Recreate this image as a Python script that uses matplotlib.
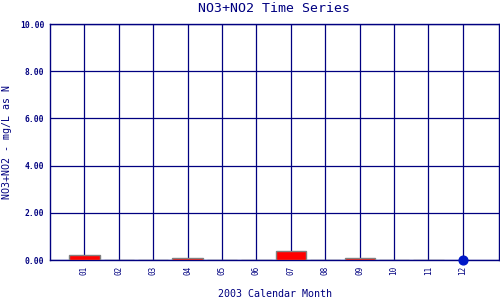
import matplotlib
matplotlib.use("Agg")
import matplotlib.pyplot as plt
import numpy as np

months = [1, 2, 3, 4, 5, 6, 7, 8, 9, 10, 11]
values = [0.21, 0.0, 0.0, 0.07, 0.0, 0.0, 0.38, 0.0, 0.07, 0.0, 0.0]
dot_months = [12]
dot_values = [0.0]
tick_labels = ["01", "02", "03", "04", "05", "06", "07", "08", "09", "10", "11", "12"]
yticks = [0, 2, 4, 6, 8, 10]

navy = "#000080"
mono = "DejaVu Sans Mono"

fig = plt.figure(figsize=(5, 3), dpi=100)
ax = fig.add_axes([0.1, 40 / 300, 449 / 500, 236 / 300])

ax.set_xlim(0, 13.05)
ax.set_ylim(0, 10)

for m in range(1, 13):
    ax.axvline(m, color=navy, lw=0.9, zorder=1)
for y in yticks:
    ax.axhline(y, color=navy, lw=0.9, zorder=1)

ax.bar(months, values, width=0.88, color="#ff0000", edgecolor="#808080",
       linewidth=1.0, zorder=3)
ax.scatter(dot_months, dot_values, s=40, color="#0018c8", zorder=4, clip_on=False)

ax.set_xticks(range(1, 13))
ax.set_xticklabels(tick_labels, rotation=90, fontsize=5.5, family=mono, color=navy)
ax.set_yticks(yticks)
ax.set_yticklabels([f"{v:.2f}" for v in yticks], fontsize=5.8, family=mono,
                   fontweight="bold", color=navy)
ax.tick_params(axis="both", length=0, pad=4)

for s in ax.spines.values():
    s.set_color(navy)
    s.set_linewidth(1.0)

ax.set_xlabel("2003 Calendar Month", family=mono, fontsize=7.2, color=navy, labelpad=10)
ax.set_ylabel("NO3+NO2 - mg/L as N", family=mono, fontsize=7.2, color=navy, labelpad=6)
ax.set_title("NO3+NO2 Time Series", family=mono, fontsize=9.5, color=navy, pad=9)

fig.savefig("out.png", dpi=100)
